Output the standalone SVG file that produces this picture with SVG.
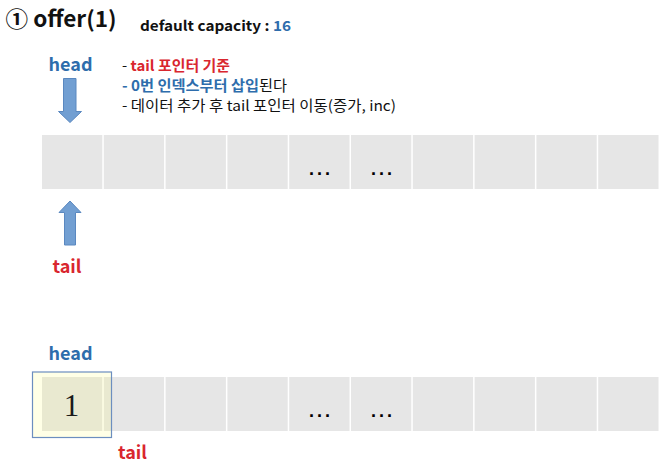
<svg xmlns="http://www.w3.org/2000/svg" width="672" height="475" viewBox="0 0 672 475">
<defs>
<style>
text{font-family:"Noto Sans CJK KR","Noto Sans",sans-serif;}
.b{font-weight:bold;}
.blue{fill:#2E6DAC;}
.red{fill:#D9262E;}
.blk{fill:#111;}
.lbl{font-size:18px;font-weight:bold;text-anchor:middle;}
.cell{fill:#E6E6E6;}
.dots{font-family:"Liberation Sans",sans-serif;font-size:18px;font-weight:bold;text-anchor:middle;letter-spacing:3px;fill:#000;}
.arrow{fill:#729FD2;stroke:#5A88C0;stroke-width:1;}
.num{font-family:"Liberation Serif","DejaVu Serif",serif;font-size:31px;text-anchor:middle;fill:#1a1a1a;}
</style>
</defs>
<rect width="672" height="475" fill="#fff"/>

<g id="title">
<text x="5.5" y="27" class="b blk" font-size="22" textLength="111" lengthAdjust="spacingAndGlyphs">① offer(1)</text>
<text x="140" y="31" class="b" font-size="14" textLength="151" lengthAdjust="spacingAndGlyphs"><tspan class="blk">default capacity : </tspan><tspan class="blue">16</tspan></text>
</g>

<g id="notes" font-size="14.5">
<text x="122" y="71" textLength="108" lengthAdjust="spacingAndGlyphs"><tspan class="blk">- </tspan><tspan class="red b">tail 포인터 기준</tspan></text>
<text x="122" y="91" textLength="165" lengthAdjust="spacingAndGlyphs"><tspan class="blue b">- 0번 인덱스부터 삽입</tspan><tspan class="blk">된다</tspan></text>
<text x="122" y="111" class="blk" textLength="274" lengthAdjust="spacingAndGlyphs">- 데이터 추가 후 tail 포인터 이동(증가, inc)</text>
</g>

<g id="array1">
<rect class="cell" x="42" y="135" width="60.3" height="54"/>
<rect class="cell" x="103.8" y="135" width="60.3" height="54"/>
<rect class="cell" x="165.6" y="135" width="60.3" height="54"/>
<rect class="cell" x="227.4" y="135" width="60.3" height="54"/>
<rect class="cell" x="289.2" y="135" width="60.3" height="54"/>
<rect class="cell" x="351" y="135" width="60.3" height="54"/>
<rect class="cell" x="412.8" y="135" width="60.3" height="54"/>
<rect class="cell" x="474.6" y="135" width="60.3" height="54"/>
<rect class="cell" x="536.4" y="135" width="60.3" height="54"/>
<rect class="cell" x="598.2" y="135" width="60.3" height="54"/>
<text class="dots" x="321" y="175">...</text>
<text class="dots" x="383" y="175">...</text>
</g>

<g id="head1"><text class="lbl blue" x="70.5" y="71">head</text></g>
<g id="tail1"><text class="lbl red" x="67" y="273">tail</text></g>

<g id="array2">
<rect class="cell" x="42" y="377" width="60.3" height="54"/>
<rect class="cell" x="103.8" y="377" width="60.3" height="54"/>
<rect class="cell" x="165.6" y="377" width="60.3" height="54"/>
<rect class="cell" x="227.4" y="377" width="60.3" height="54"/>
<rect class="cell" x="289.2" y="377" width="60.3" height="54"/>
<rect class="cell" x="351" y="377" width="60.3" height="54"/>
<rect class="cell" x="412.8" y="377" width="60.3" height="54"/>
<rect class="cell" x="474.6" y="377" width="60.3" height="54"/>
<rect class="cell" x="536.4" y="377" width="60.3" height="54"/>
<rect class="cell" x="598.2" y="377" width="60.3" height="54"/>
<text class="dots" x="321" y="417">...</text>
<text class="dots" x="383" y="417">...</text>
</g>

<g id="element1">
<rect x="32.5" y="372" width="79" height="65.5" fill="#FFFF40" fill-opacity="0.13" stroke="#6C8EBF" stroke-width="1.2"/>
<text class="num" x="71.5" y="416">1</text>
</g>

<g id="head2"><text class="lbl blue" x="70.5" y="360">head</text></g>
<g id="tail2"><text class="lbl red" x="132.5" y="459">tail</text></g>

<g id="connectors">
<polygon class="arrow" points="63.5,78.5 76,78.5 76,111.5 81.5,111.5 70,122.5 58.5,111.5 63.5,111.5"/>
<polygon class="arrow" points="70,201 81,212.5 75.5,212.5 75.5,245 64.5,245 64.5,212.5 59,212.5"/>
</g>
</svg>
